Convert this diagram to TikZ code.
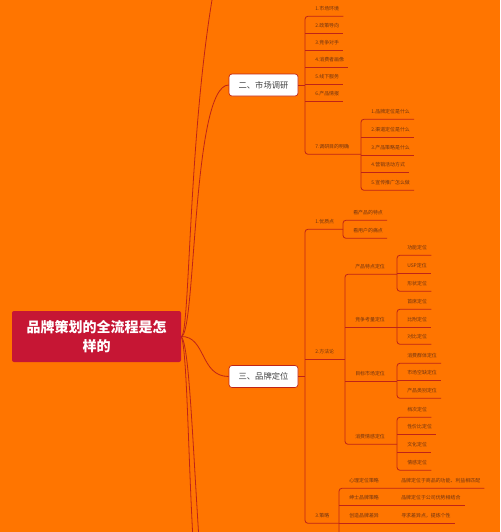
\documentclass[tikz,border=0pt]{standalone}
\usepackage{fontspec}
\setmainfont{Noto Sans CJK SC}
\usetikzlibrary{positioning,calc}
\definecolor{bgorange}{RGB}{255,117,0}
\definecolor{linkred}{RGB}{190,36,24}
\definecolor{rootred}{RGB}{198,22,52}
\definecolor{itemtext}{RGB}{112,52,18}
\tikzset{
  item/.style={anchor=west,inner xsep=3pt,inner ysep=0pt,minimum height=10.5pt,
    text=itemtext,font=\fontsize{3.7}{4.4}\selectfont},
  topic/.style={draw=linkred,line width=0.5pt,fill=white,rounded corners=2.2pt,
    minimum width=51.75pt,minimum height=16.5pt,text=black!75,font=\fontsize{6.2}{7}\selectfont},
  link/.style={draw=linkred,line width=0.6pt},
  bracket/.style={link,rounded corners=2.2pt}
}

\begin{document}
\begin{tikzpicture}[x=0.75pt,y=-0.75pt]
  \useasboundingbox (0,0) rectangle (500,532);
  \fill[bgorange] (0,0) rectangle (500,532);
  \clip (0,0) rectangle (500,532);

  % root and main topics
  \node[fill=rootred,rounded corners=1.5pt,minimum width=126.75pt,minimum height=38.25pt,
    text=white,align=center,font=\fontsize{10.5}{14.5}\selectfont\bfseries]
    (root) at (96.5,336.5) {品牌策划的全流程是怎\\样的};
  \node[topic] (mr) at (263.5,85) {二、市场调研};
  \node[topic] (bp) at (263.5,376.5) {三、品牌定位};

  \coordinate (upA) at (213,-6);
  \coordinate (dnA) at (193,540);
  \coordinate (dnB) at (199,540);
  \draw[link] (root.east) .. controls (190,336) and (188,140) .. (upA);
  \draw[link] (root.east) .. controls (196,336) and (192,85) .. (mr.west);
  \draw[link] (root.east) .. controls (206,336) and (200,376.5) .. (bp.west);
  \draw[link] (root.east) .. controls (187,350) and (188,450) .. (dnA);
  \draw[link] (root.east) .. controls (189,345) and (192,430) .. (dnB);

  % market research
  \coordinate (b1) at (305,0);
  \coordinate (b2) at (361,0);
  \node[item] (m1) at (311,9)   {1.市场环境};
  \node[item] (m2) at (311,26)  {2.政策导向};
  \node[item] (m3) at (311,43)  {3.竞争对手};
  \node[item] (m4) at (311,60)  {4.消费者画像};
  \node[item] (m5) at (311,77)  {5.线下服务};
  \node[item] (m6) at (311,94)  {6.产品情报};
  \node[item] (m7) at (311,147) {7.调研目的明确};
  \node[item] (s1) at (367,112) {1.品牌定位是什么};
  \node[item] (s2) at (367,130) {2.渠道定位是什么};
  \node[item] (s3) at (367,148) {3.产品策略是什么};
  \node[item] (s4) at (367,165) {4.营销活动方式};
  \node[item] (s5) at (367,183) {5.宣传推广怎么做};

  \draw[link] (mr.east) -- (mr.east -| b1);
  \draw[bracket] (m1.south east) -- (m1.south -| b1) -- (m7.south -| b1) -- (m7.south -| b2);
  \foreach \n in {m2,m3,m4,m5,m6}
    \draw[link] (\n.south -| b1) -- (\n.south east);
  \draw[bracket] (s1.south east) -- (s1.south -| b2) -- (s5.south -| b2) -- (s5.south east);
  \foreach \n in {s2,s3,s4}
    \draw[link] (\n.south -| b2) -- (\n.south east);

  % brand positioning
  \coordinate (b3) at (305,0);
  \coordinate (b4) at (343,0);
  \coordinate (b5) at (345,0);
  \coordinate (bt) at (397,0);
  \coordinate (b10) at (339,0);
  \coordinate (bot) at (339,560);
  \node[item] (p1) at (311,222) {1.优质点};
  \node[item] (p2) at (311,352) {2.方法论};
  \node[item] (p3) at (311,516) {3.策略};
  \node[item] (q1) at (349,213) {看产品的特点};
  \node[item] (q2) at (349,231) {看用户的痛点};
  \node[item] (r1) at (351,267) {产品特点定位};
  \node[item] (r2) at (351,320) {竞争考量定位};
  \node[item] (r3) at (351,374) {目标市场定位};
  \node[item] (r4) at (351,437) {消费情感定位};
  \node[item] (t1) at (403,248) {功能定位};
  \node[item] (t2) at (403,266) {USP定位};
  \node[item] (t3) at (403,284) {形状定位};
  \node[item] (t4) at (403,302) {首席定位};
  \node[item] (t5) at (403,320) {比附定位};
  \node[item] (t6) at (403,337) {对比定位};
  \node[item] (t7) at (403,356) {消费群体定位};
  \node[item] (t8) at (403,373) {市场空缺定位};
  \node[item] (t9) at (403,391) {产品类别定位};
  \node[item] (t10) at (403,410) {档次定位};
  \node[item] (t11) at (403,427) {性价比定位};
  \node[item] (t12) at (403,445) {文化定位};
  \node[item] (t13) at (403,463) {情感定位};
  \node[item] (u1) at (345,481) {心理定位策略};
  \node[item] (u2) at (345,498) {绅士品牌策略};
  \node[item] (u3) at (345,516) {创造品牌差异};
  \node[item] (v1) at (397,481) {品牌定位于商品的功能、利益相匹配};
  \node[item] (v2) at (397,498) {品牌定位于公司优势相结合};
  \node[item] (v3) at (397,516) {寻求差异点，提炼个性};

  \draw[link] (bp.east) -- (bp.east -| b3);
  \draw[bracket] (p1.south -| b4) -- (p1.south -| b3) -- (p3.south -| b3) -- (p3.south -| b10);
  \draw[link] (p2.south -| b3) -- (p2.south -| b5);
  \draw[bracket] (q1.south east) -- (q1.south -| b4) -- (q2.south -| b4) -- (q2.south east);
  \draw[bracket] (r1.south -| bt) -- (r1.south -| b5) -- (r4.south -| b5) -- (r4.south -| bt);
  \draw[link] (r2.south -| b5) -- (r2.south -| bt);
  \draw[link] (r3.south -| b5) -- (r3.south -| bt);
  \draw[bracket] (t1.south east) -- (t1.south -| bt) -- (t3.south -| bt) -- (t3.south east);
  \draw[bracket] (t4.south east) -- (t4.south -| bt) -- (t6.south -| bt) -- (t6.south east);
  \draw[bracket] (t7.south east) -- (t7.south -| bt) -- (t9.south -| bt) -- (t9.south east);
  \draw[bracket] (t10.south east) -- (t10.south -| bt) -- (t13.south -| bt) -- (t13.south east);
  \foreach \n in {t2,t5,t8,t11,t12}
    \draw[link] (\n.south -| bt) -- (\n.south east);
  \draw[bracket] (v1.south east) -- (u1.south -| b10) -- (bot);
  \draw[link] (u2.south -| b10) -- (v2.south east);
  \draw[link] (u3.south -| b10) -- (v3.south east);
\end{tikzpicture}
\end{document}
